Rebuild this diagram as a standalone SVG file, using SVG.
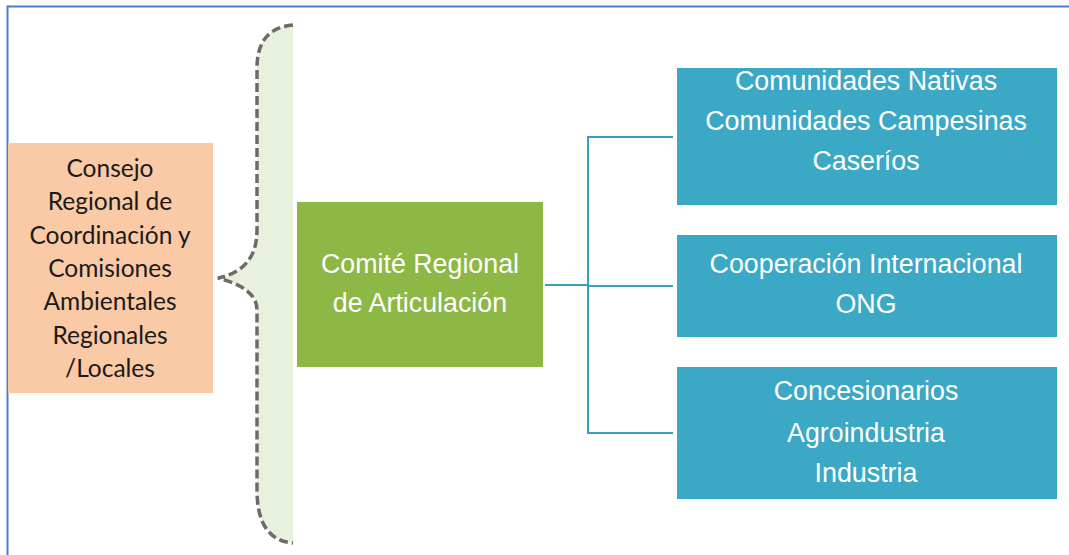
<svg xmlns="http://www.w3.org/2000/svg" width="1069" height="555" viewBox="0 0 1069 555">
<style>
.orange-t{font-family:Lato,"Open Sans",sans-serif;font-size:24.5px;fill:#1a1a1a;text-anchor:middle}
.w-t{font-family:"Liberation Sans",Arial,sans-serif;font-size:26.8px;fill:#ffffff;text-anchor:middle}
.blue{fill:#3BA8C6}
.conn{stroke:#3A9FBD;stroke-width:2;fill:none}
</style>
<rect x="0" y="0" width="1069" height="555" fill="#ffffff"/>
<path d="M7.5 555 V6.5 H1069" fill="none" stroke="#4A7EC4" stroke-width="2"/>
<g id="brace">
<path d="M293 25 Q257 28 257 68 V230 Q257 270 218 278 Q257 288 257 310 V490 Q257 540 293 543 Z" fill="#E8F1DE"/>
<path d="M293 25 Q257 28 257 68 V230 Q257 270 218 278 Q257 288 257 310 V490 Q257 540 293 543" fill="none" stroke="#6E6A6A" stroke-width="3.5" stroke-dasharray="9 4"/>
</g>
<g id="consejo">
<rect x="8" y="143" width="205" height="250" fill="#FAC9A5"/>
<text class="orange-t" x="110" y="177">Consejo</text>
<text class="orange-t" x="110" y="210">Regional de</text>
<text class="orange-t" x="110" y="244">Coordinación y</text>
<text class="orange-t" x="110" y="277">Comisiones</text>
<text class="orange-t" x="110" y="310">Ambientales</text>
<text class="orange-t" x="110" y="344">Regionales</text>
<text class="orange-t" x="110" y="377">/Locales</text>
</g>
<g id="comite">
<rect x="297" y="202" width="246" height="165" fill="#8DB846"/>
<text class="w-t" x="420" y="273">Comité Regional</text>
<text class="w-t" x="420" y="312">de Articulación</text>
</g>
<g id="connectors">
<path class="conn" d="M545 285 H588"/>
<path class="conn" d="M673 137 H588 V433 H673"/>
<path class="conn" d="M588 286 H673"/>
</g>
<g id="comunidades">
<rect class="blue" x="677" y="68" width="380" height="137"/>
<text class="w-t" x="866" y="90">Comunidades Nativas</text>
<text class="w-t" x="866" y="130">Comunidades Campesinas</text>
<text class="w-t" x="866" y="170">Caseríos</text>
</g>
<g id="cooperacion">
<rect class="blue" x="677" y="235" width="380" height="102"/>
<text class="w-t" x="866" y="273">Cooperación Internacional</text>
<text class="w-t" x="866" y="313">ONG</text>
</g>
<g id="concesionarios">
<rect class="blue" x="677" y="367" width="380" height="132"/>
<text class="w-t" x="866" y="400">Concesionarios</text>
<text class="w-t" x="866" y="442">Agroindustria</text>
<text class="w-t" x="866" y="482">Industria</text>
</g>
</svg>
